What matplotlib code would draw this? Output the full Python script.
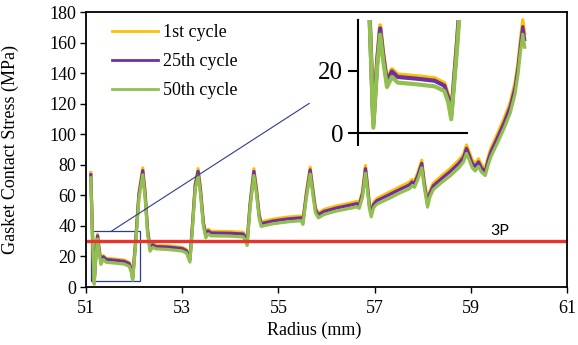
import matplotlib.pyplot as plt
import matplotlib.patches as patches

plt.rcParams['font.family'] = ['Liberation Serif', 'DejaVu Serif']

radius = [51.10, 51.13, 51.17, 51.21, 51.24, 51.27, 51.31, 51.36, 51.42, 51.60,
          51.80, 51.90, 51.94, 51.97, 52.03, 52.10, 52.18, 52.23, 52.28, 52.33,
          52.39, 52.45, 52.70, 53.00, 53.09, 53.16, 53.21, 53.27, 53.33, 53.38,
          53.44, 53.49, 53.54, 53.60, 54.00, 54.27, 54.31, 54.35, 54.41, 54.49,
          54.54, 54.60, 54.64, 54.90, 55.20, 55.47, 55.51, 55.58, 55.66, 55.71,
          55.77, 55.83, 55.95, 56.20, 56.50, 56.63, 56.68, 56.75, 56.81, 56.85,
          56.89, 56.93, 56.98, 57.05, 57.30, 57.55, 57.72, 57.78, 57.83, 57.90,
          57.98, 58.03, 58.10, 58.15, 58.22, 58.40, 58.57, 58.75, 58.85, 58.91,
          58.96, 59.03, 59.09, 59.16, 59.22, 59.30, 59.36, 59.42, 59.55, 59.70,
          59.82, 59.92, 59.98, 60.03, 60.08, 60.12]

cycle1 = [75.0, 40.0, 3.5, 24.0, 34.5, 26.0, 17.0, 20.5, 18.8, 18.3,
          17.6, 16.0, 12.0, 6.3, 30.0, 62.0, 78.0, 62.0, 38.0, 25.7,
          28.5, 27.3, 27.0, 26.0, 24.5, 18.5, 40.0, 68.0, 77.5, 65.0,
          43.0, 35.0, 37.8, 36.5, 36.3, 35.8, 33.5, 30.0, 55.0, 77.5,
          66.0, 48.0, 42.7, 44.5, 45.8, 46.5, 44.0, 62.0, 78.5, 66.0,
          52.0, 48.5, 50.8, 53.0, 55.0, 56.0, 55.0, 63.0, 79.5, 68.0,
          55.0, 49.5, 55.5, 58.0, 62.0, 66.0, 68.5, 70.5, 69.5, 75.0,
          83.0, 70.0, 56.0, 63.0, 68.0, 73.0, 77.5, 83.0, 87.0, 93.0,
          89.0, 83.0, 81.0, 84.0, 80.0, 77.7, 85.0, 91.0, 100.0, 111.0,
          121.0, 134.0, 147.0, 162.0, 175.0, 166.0]

cycle25 = [73.5, 39.0, 3.0, 23.3, 33.5, 25.2, 16.3, 19.8, 18.0, 17.5,
           16.8, 15.2, 11.2, 5.8, 29.0, 60.5, 76.2, 60.5, 37.0, 25.0,
           27.7, 26.5, 26.2, 25.2, 23.7, 17.8, 39.0, 66.3, 75.7, 63.3,
           41.8, 34.0, 36.7, 35.4, 35.2, 34.7, 32.5, 29.2, 53.6, 75.7,
           64.3, 46.8, 41.5, 43.3, 44.6, 45.3, 42.8, 60.3, 76.7, 64.3,
           50.7, 47.3, 49.5, 51.7, 53.7, 54.6, 53.6, 61.4, 77.5, 66.3,
           53.6, 48.3, 54.1, 56.6, 60.4, 64.3, 66.8, 68.8, 67.8, 73.2,
           81.0, 68.2, 54.6, 61.4, 66.3, 71.2, 75.6, 81.0, 85.0, 90.8,
           86.9, 81.0, 79.0, 82.0, 78.0, 75.8, 83.0, 88.8, 97.6, 108.3,
           118.2, 130.8, 143.5, 158.0, 170.5, 162.0]

cycle50 = [71.5, 37.5, 1.8, 21.5, 31.5, 23.5, 14.8, 18.0, 16.2, 15.7,
           15.0, 13.5, 9.8, 4.5, 27.0, 58.0, 73.5, 58.0, 35.0, 23.5,
           26.0, 25.0, 24.6, 23.6, 22.2, 16.3, 37.0, 64.0, 73.0, 61.0,
           40.0, 32.2, 34.8, 33.5, 33.3, 32.8, 30.5, 27.2, 51.5, 73.0,
           62.0, 45.0, 39.7, 41.5, 42.7, 43.4, 41.0, 58.0, 74.0, 62.0,
           48.7, 45.3, 47.5, 49.7, 51.6, 52.5, 51.5, 59.0, 74.5, 64.0,
           51.5, 46.0, 52.0, 54.3, 58.0, 62.0, 64.3, 66.2, 65.3, 70.5,
           78.0, 65.8, 52.3, 59.0, 63.8, 68.6, 72.8, 78.0, 82.0, 87.5,
           83.7, 78.0, 76.0, 79.0, 75.2, 73.0, 79.8, 85.5, 94.0, 104.5,
           114.0, 126.5, 139.0, 153.5, 165.5, 157.0]

series = [('1st cycle', cycle1, '#FFC000'),
          ('25th cycle', cycle25, '#7030A0'),
          ('50th cycle', cycle50, '#92C050')]

limit_3p = 30
zoom_box = (51.10, 4.0, 1.02, 32.6)
xticks = [51, 53, 55, 57, 59, 61]

fs = 13

fig = plt.figure(figsize=(5.78, 3.45), dpi=100)
ax = fig.add_axes([0.1488, 0.168, 0.8322, 0.797])

for name, vals, col in series:
    ax.plot(radius, vals, color=col, lw=2.3, label=name, solid_joinstyle='round')

ax.axhline(limit_3p, color='#E8342C', lw=2.4)
ax.text(59.6, 36.5, '3P', family=['Lato', 'DejaVu Sans'], fontsize=11.5,
        ha='center', va='center')

ax.add_patch(patches.Rectangle(zoom_box[:2], zoom_box[2], zoom_box[3],
                               fill=False, edgecolor='#2F3C8C', lw=0.9))
ax.plot([51.53, 55.64], [36.6, 120.2], color='#2F3C8C', lw=0.8)

ax.set_xlim(51, 61)
ax.set_ylim(0, 180)
ax.set_xticks(xticks)
ax.set_yticks(range(0, 181, 20))
ax.tick_params(direction='out', length=4, width=1, labelsize=fs)
ax.tick_params(axis='x', pad=5)
ax.tick_params(axis='y', pad=3)
for s in ax.spines.values():
    s.set_linewidth(1.3)
ax.set_xlabel('Radius (mm)', fontsize=fs)
ax.xaxis.set_label_coords(0.474, -0.125)
ax.set_ylabel('Gasket Contact Stress (MPa)', fontsize=fs)
ax.yaxis.set_label_coords(-0.14, 0.5)

leg = ax.legend(loc='upper left', bbox_to_anchor=(0.055, 0.955), frameon=False,
                fontsize=fs, handlelength=2.5, handletextpad=0.3,
                labelspacing=0.65, borderpad=0, borderaxespad=0)
for h in leg.get_lines():
    h.set_linewidth(2.0)

# inset
ins = fig.add_axes([0.619, 0.6136, 0.1886, 0.3284])
for name, vals, col in series:
    ins.plot(radius, vals, color=col, lw=3.0, solid_joinstyle='round')
ins.set_xlim(51.01, 52.13)
ins.set_ylim(0, 36.2)
ins.set_yticks([0, 20])
ins.set_xticks([51.01])
ins.set_xticklabels([])
ins.tick_params(axis='y', direction='out', length=7, width=1.5, labelsize=18)
ins.tick_params(axis='x', direction='out', length=9, width=1.5)
ins.spines['top'].set_visible(False)
ins.spines['right'].set_visible(False)
ins.spines['left'].set_linewidth(1.5)
ins.spines['bottom'].set_linewidth(1.5)
ins.patch.set_alpha(0)

fig.savefig('out.png', dpi=100)
